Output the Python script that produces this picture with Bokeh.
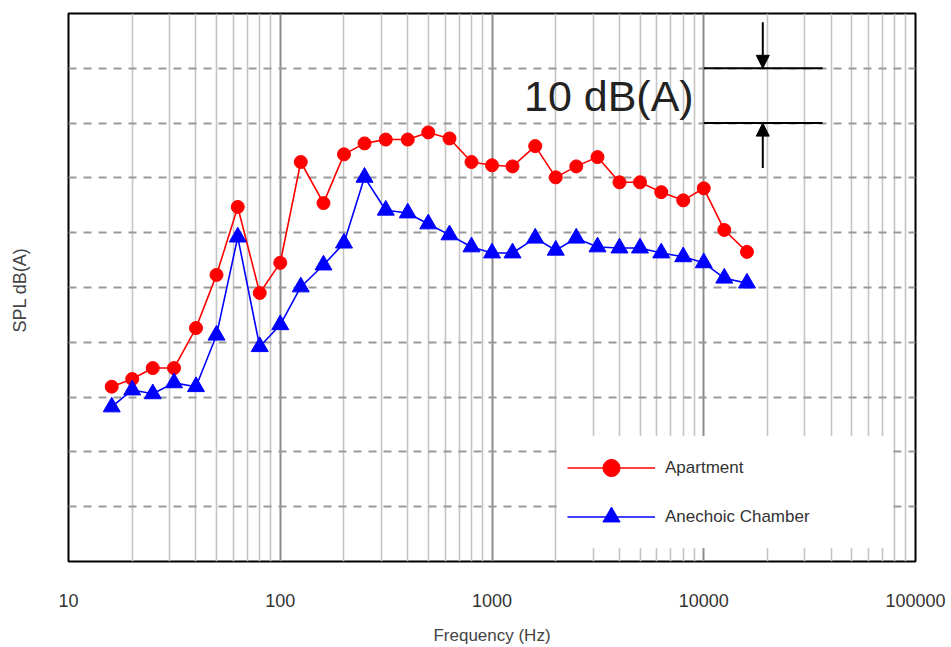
from bokeh.plotting import figure
from bokeh.models import (FixedTicker, SingleIntervalTicker, Legend, LegendItem,
                          Arrow, NormalHead, Label, ColumnDataSource)
from bokeh.embed import file_html
from bokeh.resources import INLINE

# 1/3-octave band centre frequencies (Hz)
freq = [16, 20, 25, 31.5, 40, 50, 63, 80, 100, 125, 160, 200, 250, 315, 400,
        500, 630, 800, 1000, 1250, 1600, 2000, 2500, 3150, 4000, 5000, 6300,
        8000, 10000, 12500, 16000]

# SPL dB(A) (relative scale, 10 dB per grid division)
apartment = [31.9, 33.3, 35.3, 35.3, 42.6, 52.3, 64.7, 49.0, 54.5, 72.9, 65.4,
             74.3, 76.3, 77.0, 77.0, 78.3, 77.2, 72.9, 72.3, 72.1, 75.8, 70.1,
             72.1, 73.8, 69.2, 69.2, 67.4, 65.9, 68.1, 60.5, 56.5]
anechoic = [28.2, 31.3, 30.6, 32.6, 31.9, 41.3, 59.2, 39.2, 43.2, 50.1, 54.1,
            58.1, 70.1, 64.1, 63.6, 61.6, 59.6, 57.4, 56.3, 56.3, 59.0, 56.8,
            59.0, 57.4, 57.2, 57.2, 56.3, 55.6, 54.5, 51.7, 50.8]

series_names = ["Apartment", "Anechoic Chamber"]
x_ticks = [10, 100, 1000, 10000, 100000]
x_tick_labels = ["10", "100", "1000", "10000", "100000"]

# 10 dB(A) scale bar annotation
scale_bar_levels = [80, 90]
scale_bar_x = [10000, 36400]
scale_arrow_x = 19000
scale_label = "10 dB(A)"

FONT = "Liberation Sans"

p = figure(width=951, height=647, x_axis_type="log",
           x_range=(10, 100000), y_range=(0, 100),
           output_backend="svg", toolbar_location=None,
           min_border_left=68, min_border_right=36,
           min_border_top=13, min_border_bottom=85,
           background_fill_color="white", border_fill_color="white")

# axes
p.xaxis.ticker = FixedTicker(
    ticks=x_ticks,
    minor_ticks=[m * 10 ** d for d in range(1, 5) for m in range(2, 10)])
p.xaxis.major_label_overrides = {t: l for t, l in zip(x_ticks, x_tick_labels)}
p.xaxis.axis_label = "Frequency (Hz)"
p.xaxis.major_label_standoff = 28
p.xaxis.axis_label_standoff = 16
p.xaxis.major_label_text_font = FONT
p.xaxis.major_label_text_font_size = "18px"
p.xaxis.major_label_text_color = "#333333"
p.xaxis.axis_label_text_font = FONT
p.xaxis.axis_label_text_font_size = "17px"
p.xaxis.axis_label_text_font_style = "normal"
p.xaxis.axis_label_text_color = "#444444"

p.yaxis.ticker = SingleIntervalTicker(interval=10)
p.yaxis.axis_label = "SPL  dB(A)"
p.yaxis.major_label_text_font_size = "1px"
p.yaxis.major_label_text_alpha = 0
p.yaxis.major_label_standoff = 0
p.yaxis.axis_label_standoff = 35
p.yaxis.axis_label_text_font = FONT
p.yaxis.axis_label_text_font_size = "18px"
p.yaxis.axis_label_text_font_style = "normal"
p.yaxis.axis_label_text_color = "#444444"

for ax in (p.xaxis, p.yaxis):
    ax.axis_line_color = None
    ax.major_tick_line_color = None
    ax.minor_tick_line_color = None
    ax.major_tick_out = 0
    ax.major_tick_in = 0

# grids
p.xgrid.grid_line_color = "#8c8c8c"
p.xgrid.grid_line_width = 2
p.xgrid.minor_grid_line_color = "#c4c4c4"
p.xgrid.minor_grid_line_width = 1.6
p.ygrid.grid_line_color = "#9a9a9a"
p.ygrid.grid_line_width = 2
p.ygrid.grid_line_dash = "8 7"

p.outline_line_color = "black"
p.outline_line_width = 2

src = ColumnDataSource(dict(freq=freq, apartment=apartment, anechoic=anechoic))

r1l = p.line("freq", "apartment", source=src, line_color="#ff0000", line_width=1.6)
r1s = p.scatter("freq", "apartment", source=src, marker="circle", size=13,
                fill_color="#ff0000", line_color="#ff0000")
r2l = p.line("freq", "anechoic", source=src, line_color="#0000ff", line_width=1.6)
r2s = p.scatter("freq", "anechoic", source=src, marker="triangle", size=17,
                fill_color="#0000ff", line_color="#0000ff")

# scale bar annotation
for lvl in scale_bar_levels:
    p.line(scale_bar_x, [lvl, lvl], line_color="black", line_width=2)
p.add_layout(Arrow(end=NormalHead(size=13, fill_color="black", line_color="black"),
                   x_start=scale_arrow_x, y_start=98.4,
                   x_end=scale_arrow_x, y_end=max(scale_bar_levels),
                   line_color="black", line_width=2))
p.add_layout(Arrow(end=NormalHead(size=13, fill_color="black", line_color="black"),
                   x_start=scale_arrow_x, y_start=71.8,
                   x_end=scale_arrow_x, y_end=min(scale_bar_levels),
                   line_color="black", line_width=2))
p.add_layout(Label(x=8960, y=sum(scale_bar_levels) / 2, text=scale_label,
                   text_align="right", text_baseline="middle",
                   text_font=FONT, text_font_size="43px", text_color="#222222"))

legend = Legend(items=[LegendItem(label=series_names[0], renderers=[r1l, r1s]),
                       LegendItem(label=series_names[1], renderers=[r2l, r2s])],
                location=(489, 13), glyph_width=88, glyph_height=43,
                label_height=43, label_width=212, label_standoff=10,
                spacing=6, padding=10, margin=0,
                border_line_alpha=0, background_fill_color="white",
                background_fill_alpha=1.0,
                label_text_font=FONT, label_text_font_size="17px",
                label_text_color="#333333")
p.add_layout(legend)

open("out.html", "w").write(file_html(p, INLINE))
